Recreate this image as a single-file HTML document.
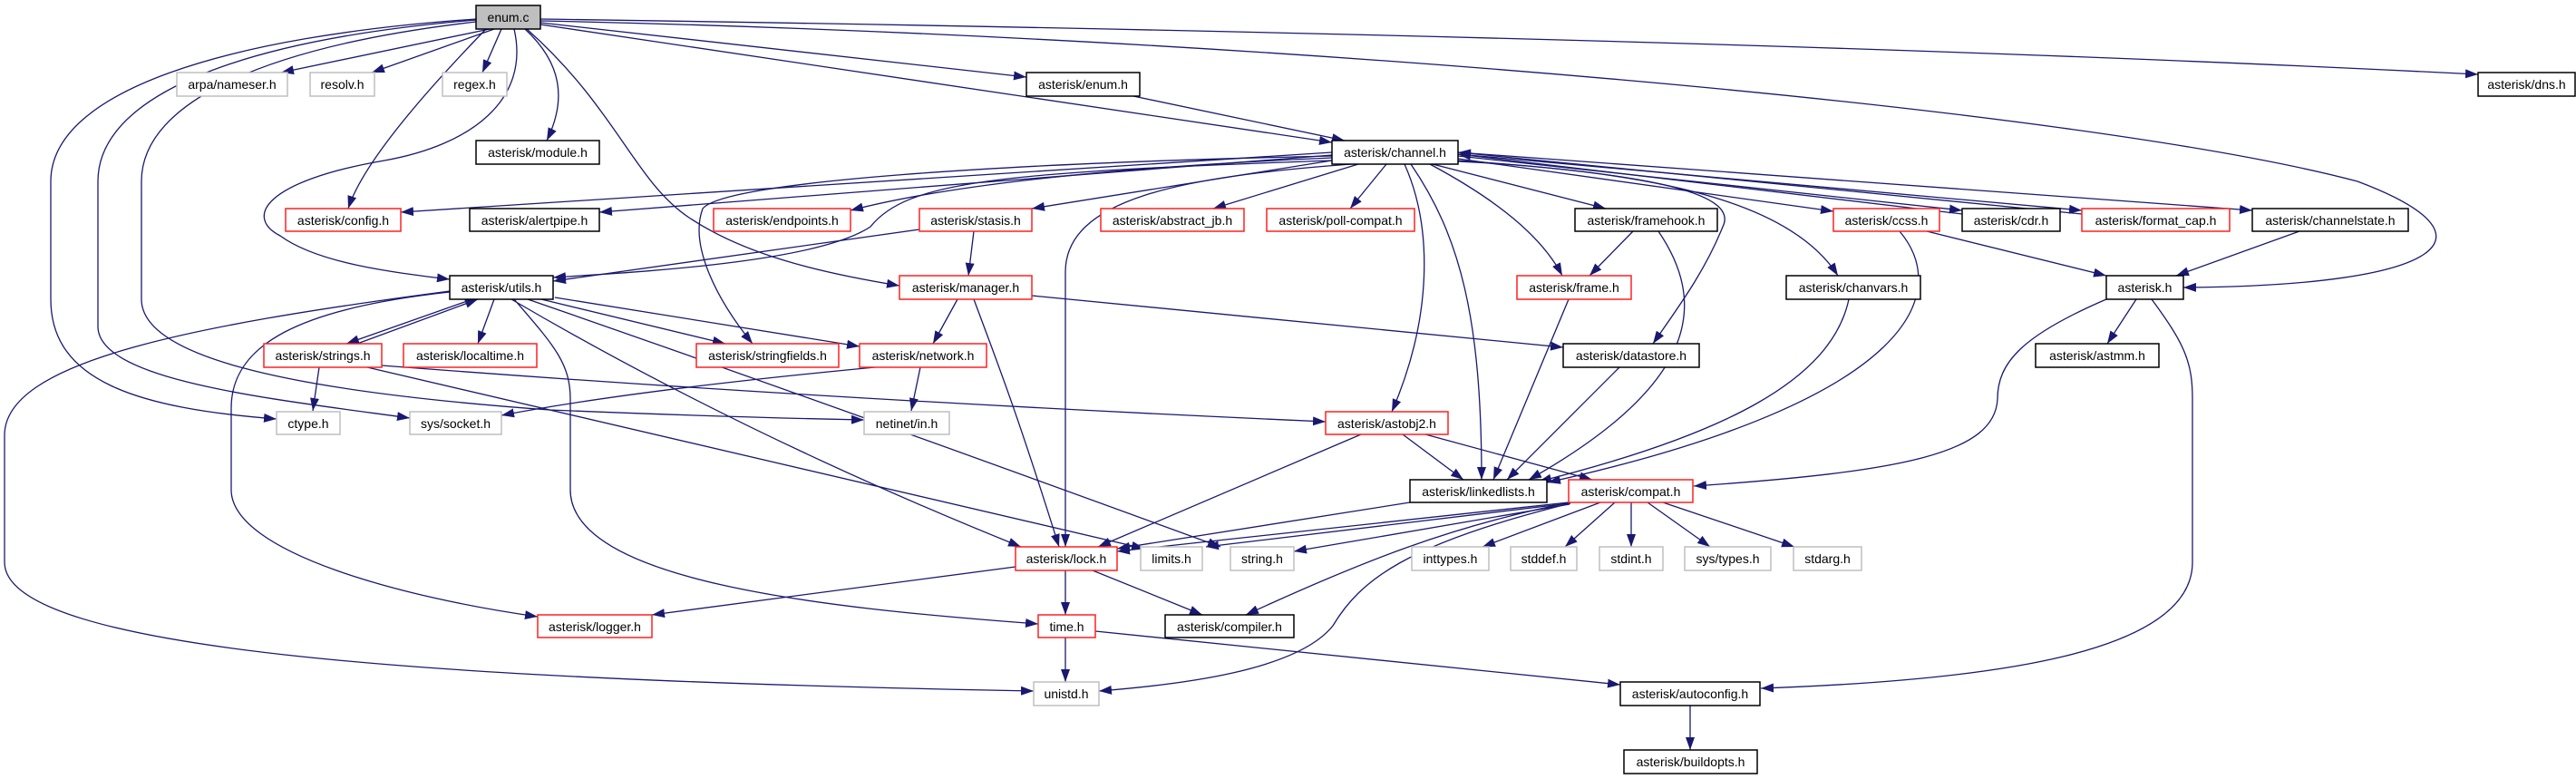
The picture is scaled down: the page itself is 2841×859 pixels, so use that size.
<!DOCTYPE html>
<html><head><meta charset="utf-8"><style>
html,body{margin:0;padding:0;background:#fff;}
svg{display:block;}
text{font-family:"Liberation Sans",sans-serif;font-size:14px;fill:#000;}
.e{fill:none;stroke:#191970;stroke-width:1.3;marker-end:url(#a);}
.bk{fill:#fff;stroke:#000;stroke-width:1.5;}
.rd{fill:#fff;stroke:#ff2020;stroke-width:1.5;}
.gr{fill:#fff;stroke:#bfbfbf;stroke-width:1.5;}
</style></head><body>
<svg width="2841" height="859" viewBox="0 0 2841 859" xmlns="http://www.w3.org/2000/svg">
<defs><marker id="a" markerUnits="userSpaceOnUse" markerWidth="14" markerHeight="10" refX="14" refY="5" orient="auto"><path d="M0,0 L14,5 L0,10 z" fill="#191970"/></marker></defs>
<g>
<!-- enum.c edges -->
<path class="e" d="M540,32 L310,80"/>
<path class="e" d="M545,32 L410,80"/>
<path class="e" d="M553,32 L532,80"/>
<path class="e" d="M536,32 C470,100 400,180 384,230"/>
<path class="e" d="M567,32 C585,110 520,160 424,177 C290,200 270,240 309,260 C350,290 430,300 496,308"/>
<path class="e" d="M579,32 C620,70 625,110 603,155"/>
<path class="e" d="M581,32 C680,120 700,200 760,240 C820,280 900,300 992,315"/>
<path class="e" d="M596,25 L1132,85"/>
<path class="e" d="M596,27 L1469,157"/>
<path class="e" d="M596,21 Q1900,40 2733,82"/>
<path class="e" d="M596,23 C1400,40 2300,120 2600,200 C2760,260 2700,315 2408,317"/>
<path class="e" d="M525,21 C250,40 56,100 56,200 L56,330 C56,420 150,450 305,462"/>
<path class="e" d="M525,22 C250,45 108,110 108,200 L108,360 C108,420 300,440 452,461"/>
<path class="e" d="M525,24 C300,50 156,110 156,200 L156,330 C156,390 300,430 606,452 Q800,460 953,463"/>
<!-- utils.h edges -->
<path class="e" d="M518,331 L382,379"/>
<path class="e" d="M394,379 L527,330"/>
<path class="e" d="M545,330 L527,379"/>
<path class="e" d="M597,330 L800,379"/>
<path class="e" d="M612,328 L948,382"/>
<path class="e" d="M496,322 C330,340 255,380 255,450 L255,540 C255,610 450,660 593,680"/>
<path class="e" d="M496,321 C200,360 5,400 5,480 L5,620 C5,720 500,750 1140,762"/>
<path class="e" d="M564,330 Q820,480 1126,603"/>
<path class="e" d="M567,330 C610,380 629,400 629,440 L629,540 C629,640 900,670 1145,688"/>
<path class="e" d="M582,330 Q900,440 1346,603"/>
<!-- strings.h -->
<path class="e" d="M352,405 L345,453"/>
<path class="e" d="M421,403 Q900,440 1462,465"/>
<path class="e" d="M405,405 L1262,605"/>
<!-- network.h -->
<path class="e" d="M1015,405 L1005,453"/>
<path class="e" d="M965,405 Q700,430 553,458"/>
<!-- manager.h -->
<path class="e" d="M1056,330 L1029,379"/>
<path class="e" d="M1074,330 C1100,400 1120,450 1168,603"/>
<path class="e" d="M1138,326 L1724,383"/>
<!-- stasis.h -->
<path class="e" d="M1014,253 L610,310"/>
<path class="e" d="M1074,255 L1068,304"/>
<!-- channel.h -->
<path class="e" d="M1469,168 L442,234"/>
<path class="e" d="M1469,171 L661,234"/>
<path class="e" d="M1469,174 Q1100,190 938,232"/>
<path class="e" d="M1469,177 C1100,190 1000,200 960,250 C900,290 700,300 610,306"/>
<path class="e" d="M1469,172 C1100,180 800,200 775,230 C760,270 790,330 830,379"/>
<path class="e" d="M1469,177 L1138,230"/>
<path class="e" d="M1498,181 L1338,230"/>
<path class="e" d="M1529,181 L1489,230"/>
<path class="e" d="M1490,181 C1300,195 1175,220 1175,300 L1175,603"/>
<path class="e" d="M1549,181 C1580,250 1580,350 1535,454"/>
<path class="e" d="M1556,181 C1610,260 1634,350 1634,529"/>
<path class="e" d="M1577,181 C1650,220 1700,260 1723,304"/>
<path class="e" d="M1580,181 L1771,230"/>
<path class="e" d="M1608,177 C1800,190 1920,210 1900,250 C1880,300 1850,340 1823,379"/>
<path class="e" d="M1608,178 C1850,190 1980,230 2027,304"/>
<path class="e" d="M1608,175 L2022,233"/>
<path class="e" d="M1608,172 L2164,232"/>
<path class="e" d="M2164,236 L1608,170"/>
<path class="e" d="M1608,170 L2296,232"/>
<path class="e" d="M2296,236 L1608,168"/>
<path class="e" d="M1608,168 L2484,232"/>
<!-- enum.h -->
<path class="e" d="M1250,106 L1483,155"/>
<!-- framehook/frame/datastore/chanvars/ccss -->
<path class="e" d="M1801,255 L1753,304"/>
<path class="e" d="M1829,255 C1880,330 1880,420 1686,529"/>
<path class="e" d="M1730,330 L1647,529"/>
<path class="e" d="M1786,405 L1662,529"/>
<path class="e" d="M2039,330 C2020,420 1900,480 1697,531"/>
<path class="e" d="M2095,255 C2150,320 2120,440 1707,532"/>
<path class="e" d="M2125,255 L2323,304"/>
<path class="e" d="M2536,255 L2400,304"/>
<!-- asterisk.h -->
<path class="e" d="M2356,330 L2324,379"/>
<path class="e" d="M2323,330 C2230,370 2203,400 2203,440 C2200,500 2100,520 1868,536"/>
<path class="e" d="M2373,330 C2410,380 2418,400 2418,440 L2418,620 C2418,720 2200,750 1942,759"/>
<!-- astobj2 -->
<path class="e" d="M1501,479 L1211,603"/>
<path class="e" d="M1547,479 L1614,529"/>
<path class="e" d="M1572,479 L1756,529"/>
<!-- linkedlists -->
<path class="e" d="M1555,554 L1232,605"/>
<!-- compat.h -->
<path class="e" d="M1730,554 L1232,608"/>
<path class="e" d="M1731,555 L1330,603"/>
<path class="e" d="M1731,556 L1427,608"/>
<path class="e" d="M1732,554 C1600,580 1500,620 1374,678"/>
<path class="e" d="M1732,555 C1550,600 1500,640 1470,690 C1430,740 1300,755 1212,762"/>
<path class="e" d="M1765,554 L1635,603"/>
<path class="e" d="M1781,554 L1726,603"/>
<path class="e" d="M1799,554 L1799,603"/>
<path class="e" d="M1817,554 L1886,603"/>
<path class="e" d="M1834,554 L1979,603"/>
<!-- lock.h -->
<path class="e" d="M1120,625 L719,678"/>
<path class="e" d="M1175,629 L1175,678"/>
<path class="e" d="M1205,629 L1326,678"/>
<!-- time.h -->
<path class="e" d="M1175,703 L1175,752"/>
<path class="e" d="M1208,696 L1787,755"/>
<path class="e" d="M1864,778 L1864,827"/>
</g>
<g>
<rect x="525" y="6" width="71" height="26" fill="#bfbfbf" stroke="#000" stroke-width="1.5"/><text x="560.5" y="24" text-anchor="middle">enum.c</text>
<rect class="gr" x="195" y="80" width="122" height="26"/><text x="256" y="98" text-anchor="middle">arpa/nameser.h</text>
<rect class="gr" x="342" y="80" width="71" height="26"/><text x="377.5" y="98" text-anchor="middle">resolv.h</text>
<rect class="gr" x="488" y="80" width="71" height="26"/><text x="523.5" y="98" text-anchor="middle">regex.h</text>
<rect class="bk" x="1132" y="80" width="125" height="26"/><text x="1194.5" y="98" text-anchor="middle">asterisk/enum.h</text>
<rect class="bk" x="2733" y="80" width="107" height="26"/><text x="2786.5" y="98" text-anchor="middle">asterisk/dns.h</text>
<rect class="bk" x="525" y="155" width="136" height="26"/><text x="593" y="173" text-anchor="middle">asterisk/module.h</text>
<rect class="bk" x="1469" y="155" width="139" height="26"/><text x="1538.5" y="173" text-anchor="middle">asterisk/channel.h</text>
<rect class="rd" x="315" y="230" width="127" height="25"/><text x="378.5" y="248" text-anchor="middle">asterisk/config.h</text>
<rect class="bk" x="518" y="230" width="143" height="25"/><text x="589.5" y="248" text-anchor="middle">asterisk/alertpipe.h</text>
<rect class="rd" x="787" y="230" width="151" height="25"/><text x="862.5" y="248" text-anchor="middle">asterisk/endpoints.h</text>
<rect class="rd" x="1014" y="230" width="124" height="25"/><text x="1076" y="248" text-anchor="middle">asterisk/stasis.h</text>
<rect class="rd" x="1214" y="230" width="158" height="25"/><text x="1293" y="248" text-anchor="middle">asterisk/abstract_jb.h</text>
<rect class="rd" x="1397" y="230" width="163" height="25"/><text x="1478.5" y="248" text-anchor="middle">asterisk/poll-compat.h</text>
<rect class="bk" x="1737" y="230" width="157" height="25"/><text x="1815.5" y="248" text-anchor="middle">asterisk/framehook.h</text>
<rect class="rd" x="2022" y="230" width="117" height="25"/><text x="2080.5" y="248" text-anchor="middle">asterisk/ccss.h</text>
<rect class="bk" x="2164" y="230" width="108" height="25"/><text x="2218" y="248" text-anchor="middle">asterisk/cdr.h</text>
<rect class="rd" x="2296" y="230" width="163" height="25"/><text x="2377.5" y="248" text-anchor="middle">asterisk/format_cap.h</text>
<rect class="bk" x="2484" y="230" width="172" height="25"/><text x="2570" y="248" text-anchor="middle">asterisk/channelstate.h</text>
<rect class="bk" x="496" y="304" width="114" height="26"/><text x="553" y="322" text-anchor="middle">asterisk/utils.h</text>
<rect class="rd" x="992" y="304" width="146" height="26"/><text x="1065" y="322" text-anchor="middle">asterisk/manager.h</text>
<rect class="rd" x="1673" y="304" width="126" height="26"/><text x="1736" y="322" text-anchor="middle">asterisk/frame.h</text>
<rect class="bk" x="1970" y="304" width="148" height="26"/><text x="2044" y="322" text-anchor="middle">asterisk/chanvars.h</text>
<rect class="bk" x="2323" y="304" width="85" height="26"/><text x="2365.5" y="322" text-anchor="middle">asterisk.h</text>
<rect class="rd" x="291" y="379" width="130" height="26"/><text x="356" y="397" text-anchor="middle">asterisk/strings.h</text>
<rect class="rd" x="445" y="379" width="147" height="26"/><text x="518.5" y="397" text-anchor="middle">asterisk/localtime.h</text>
<rect class="rd" x="768" y="379" width="157" height="26"/><text x="846.5" y="397" text-anchor="middle">asterisk/stringfields.h</text>
<rect class="rd" x="948" y="379" width="140" height="26"/><text x="1018" y="397" text-anchor="middle">asterisk/network.h</text>
<rect class="bk" x="1724" y="379" width="150" height="26"/><text x="1799" y="397" text-anchor="middle">asterisk/datastore.h</text>
<rect class="bk" x="2245" y="379" width="136" height="26"/><text x="2313" y="397" text-anchor="middle">asterisk/astmm.h</text>
<rect class="gr" x="305" y="454" width="70" height="25"/><text x="340" y="472" text-anchor="middle">ctype.h</text>
<rect class="gr" x="452" y="454" width="101" height="25"/><text x="502.5" y="472" text-anchor="middle">sys/socket.h</text>
<rect class="gr" x="953" y="454" width="94" height="25"/><text x="1000" y="472" text-anchor="middle">netinet/in.h</text>
<rect class="rd" x="1462" y="454" width="135" height="25"/><text x="1529.5" y="472" text-anchor="middle">asterisk/astobj2.h</text>
<rect class="bk" x="1555" y="529" width="151" height="25"/><text x="1630.5" y="547" text-anchor="middle">asterisk/linkedlists.h</text>
<rect class="rd" x="1730" y="529" width="137" height="25"/><text x="1798.5" y="547" text-anchor="middle">asterisk/compat.h</text>
<rect class="rd" x="1120" y="603" width="112" height="26"/><text x="1176" y="621" text-anchor="middle">asterisk/lock.h</text>
<rect class="gr" x="1258" y="603" width="68" height="26"/><text x="1292" y="621" text-anchor="middle">limits.h</text>
<rect class="gr" x="1357" y="603" width="70" height="26"/><text x="1392" y="621" text-anchor="middle">string.h</text>
<rect class="gr" x="1557" y="603" width="85" height="26"/><text x="1599.5" y="621" text-anchor="middle">inttypes.h</text>
<rect class="gr" x="1666" y="603" width="73" height="26"/><text x="1702.5" y="621" text-anchor="middle">stddef.h</text>
<rect class="gr" x="1764" y="603" width="70" height="26"/><text x="1799" y="621" text-anchor="middle">stdint.h</text>
<rect class="gr" x="1858" y="603" width="95" height="26"/><text x="1905.5" y="621" text-anchor="middle">sys/types.h</text>
<rect class="gr" x="1978" y="603" width="75" height="26"/><text x="2015.5" y="621" text-anchor="middle">stdarg.h</text>
<rect class="rd" x="593" y="678" width="126" height="25"/><text x="656" y="696" text-anchor="middle">asterisk/logger.h</text>
<rect class="rd" x="1145" y="678" width="63" height="25"/><text x="1176.5" y="696" text-anchor="middle">time.h</text>
<rect class="bk" x="1285" y="678" width="142" height="25"/><text x="1356" y="696" text-anchor="middle">asterisk/compiler.h</text>
<rect class="gr" x="1140" y="752" width="72" height="26"/><text x="1176" y="770" text-anchor="middle">unistd.h</text>
<rect class="bk" x="1787" y="752" width="154" height="26"/><text x="1864" y="770" text-anchor="middle">asterisk/autoconfig.h</text>
<rect class="bk" x="1791" y="827" width="147" height="26"/><text x="1864.5" y="845" text-anchor="middle">asterisk/buildopts.h</text>
</g>
</svg>
</body></html>
